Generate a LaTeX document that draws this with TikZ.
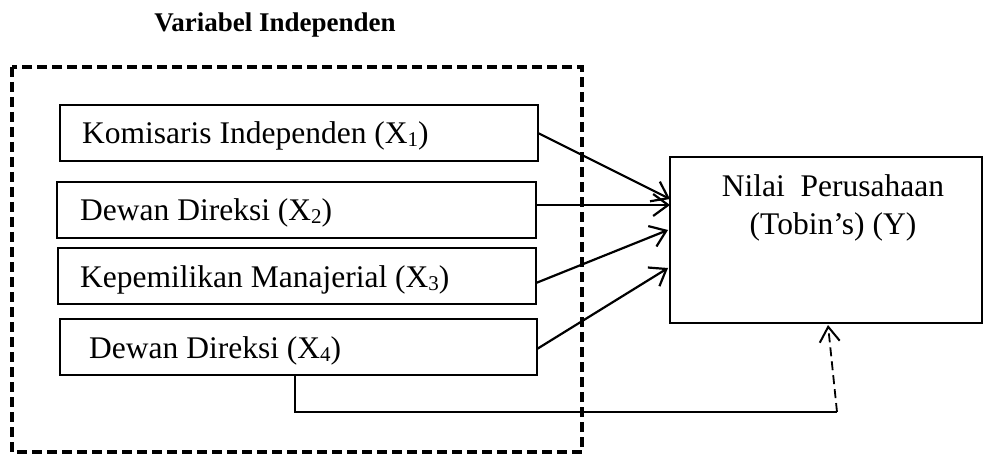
\documentclass[tikz,border=0pt]{standalone}
\usepackage{fontspec}
\setmainfont{Liberation Serif}
\usetikzlibrary{arrows.meta}
\newcommand{\mysub}[1]{\raisebox{-3pt}{\fontsize{21}{22}\selectfont #1}}
\begin{document}
\begin{tikzpicture}[x=1pt,y=-1pt,
  varbox/.style={draw,line width=2.6pt},
  lbl/.style={anchor=base west,inner sep=0pt,font=\fontsize{31.5}{34}\selectfont},
  arr/.style={line width=2.2pt,-{Straight Barb[length=15pt,width=22pt,line width=2.2pt]}},
]
\useasboundingbox (0,0) rectangle (984,454);
\node[anchor=base,inner sep=0pt,font=\bfseries\fontsize{27}{30}\selectfont] (title) at (275,32) {Variabel Independen};
\draw[line width=3.5pt,dash pattern=on 10pt off 5pt] (12,67) rectangle (582,452);
% boxes
\draw[varbox] (60,105) rectangle (538,161);
\coordinate (b1) at (538,133);
\node[lbl] (t1) at (82,144) {Komisaris Independen (X\mysub{1})};
\draw[varbox] (57,182) rectangle (536,238);
\coordinate (b2) at (536,205);
\node[lbl] (t2) at (80,221) {Dewan Direksi (X\mysub{2})};
\draw[varbox] (58,248) rectangle (536,304);
\coordinate (b3) at (536,283);
\node[lbl] (t3) at (80,287) {Kepemilikan Manajerial (X\mysub{3})};
\draw[varbox] (60,319) rectangle (537,375);
\coordinate (b4) at (537,349);
\coordinate (b4s) at (295,375);
\node[lbl] (t4) at (89,358) {Dewan Direksi (X\mysub{4})};
% Y box
\draw[varbox] (670,157) rectangle (982,323);
\node[anchor=base,inner sep=0pt,font=\fontsize{31.5}{34}\selectfont] (y1) at (833,197) {Nilai\ \ Perusahaan};
\node[anchor=base,inner sep=0pt,font=\fontsize{31.5}{34}\selectfont] (y2) at (833,235) {(Tobin’s) (Y)};
\coordinate (e1) at (670,199);
\coordinate (e2) at (670,205);
\coordinate (e3) at (668,230);
\coordinate (e4) at (668,268);
\coordinate (ey) at (828,325);
\coordinate (c1) at (295,412);
\coordinate (c2) at (837,412);
\draw[arr] (b1) -- (e1);
\draw[arr] (b2) -- (e2);
\draw[arr] (b3) -- (e3);
\draw[arr] (b4) -- (e4);
\draw[line width=1.2pt] (b4s) -- (c1) -- (c2);
\draw[line width=1.8pt,dash pattern=on 9pt off 5pt,-{Straight Barb[length=15pt,width=20pt,line width=2pt]}] (c2) -- (ey);
\end{tikzpicture}
\end{document}
